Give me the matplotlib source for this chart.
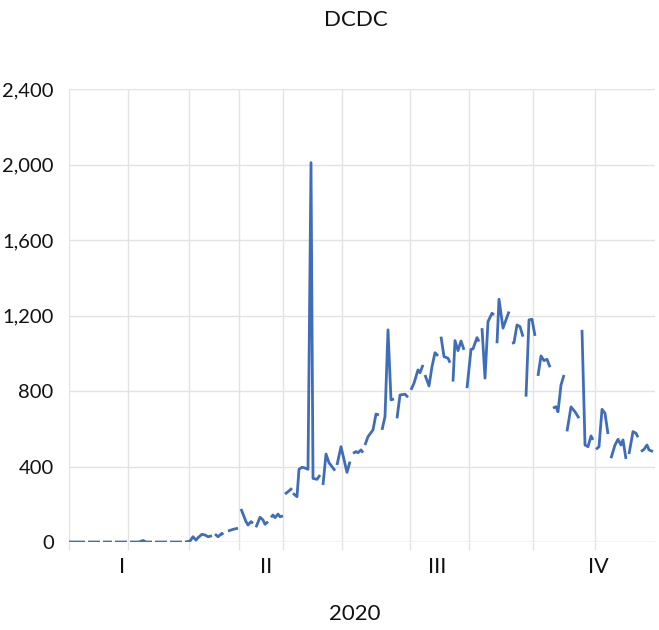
import matplotlib
matplotlib.use('Agg')
import matplotlib.pyplot as plt
import numpy as np

nan = np.nan

# sample index (one step = half a column of the axis) and daily DCDC values;
# nan marks the days with no reading, which break the line
t = [0, 2, 4, 6, 8, 8.75,
     9.5, 11, 12.5, 14, 15.5, 16.25,
     17, 18.5, 20, 21.5, 22.25,
     23, 24.5, 26, 27.5, 29, 29.75,
     30.5, 32, 33.5, 35, 37, 38.5, 40, 41.5, 42.25,
     43, 44.5, 46, 47.5, 49, 49.75,
     50.5, 52, 53.5, 55, 56.5, 57.25,
     58, 59.5, 60.5, 62, 63.5, 64.5, 66.5, 68, 69.5, 71.5, 72.25,
     73, 74.5, 76.5, 77, 78.25,
     79.5, 82, 84.5, 85.25,
     86, 88.5, 89.5, 91, 92, 92.75,
     93.5, 95.5, 97, 98, 99.5, 100.25,
     101, 102, 103, 104.5, 105.5, 107, 107.5,
     108, 110.5, 111.5, 111.75,
     112, 114, 115, 116.5, 118, 119.5, 121, 122, 124, 125.5, 126.25,
     127, 128.5, 130, 133, 133.5,
     134, 136, 139, 140.5, 141.25,
     142, 143.5, 144.5, 146, 147, 147.5,
     148, 149.5, 152, 153.5, 155, 155.75,
     156.5, 158, 159.5, 161, 162.5, 163.25,
     164, 165.5, 168, 169.5, 170.25,
     171, 172.5, 174.5, 175.5, 177, 177.5,
     178, 180, 181.5, 183, 184.5, 185.25,
     186, 187.5, 189.5, 190.5, 191.25,
     192, 193, 194.5, 196, 197.5, 198.25,
     199, 201, 202, 204, 205, 205.75,
     206.5, 208, 209.5, 211.5, 212.5, 213.25,
     214, 215, 217, 218.5, 220, 220.75,
     221.5, 222.5, 224, 225.5, 227, 227.75,
     228.5, 230, 231.5, 233, 233.75,
     234.5, 236, 237.5, 239, 240.5, 241.25,
     242, 243.5, 244.5, 246, 247.5, 248.25,
     249, 251, 253, 255, 255.75,
     256.5, 258, 259.5, 261, 262, 262.75,
     263.5, 265, 266.5, 268, 269.5, 270.25,
     271, 273, 274.5, 276, 277, 278.5, 279.25,
     280, 282, 283.5, 284.5, 285.25,
     286, 287.5, 289, 290, 292]

dcdc = [0, 0, 0, 0, 0, nan,
        0, 0, 0, 0, 0, nan,
        0, 0, 0, 0, nan,
        0, 0, 0, 0, 0, nan,
        0, 0, 0, 0, 8, 0, 0, 0, nan,
        0, 0, 0, 0, 0, nan,
        0, 0, 0, 0, 0, nan,
        0, 3, 5, 28, 10, 23, 41, 37, 28, 33, nan,
        42, 28, 46, 37, nan,
        58, 67, 73, nan,
        175, 108, 90, 108, 99, nan,
        78, 131, 117, 94, 108, nan,
        131, 143, 129, 148, 134, 138, nan,
        254, 275, 285, nan,
        258, 240, 385, 396, 392, 385, 2010, 337, 332, 355, nan,
        302, 466, 420, 378, nan,
        408, 505, 369, 426, nan,
        470, 479, 473, 488, 473, nan,
        514, 558, 594, 678, 673, nan,
        594, 664, 1124, 753, 758, nan,
        655, 779, 783, 767, nan,
        806, 841, 912, 897, 938, nan,
        885, 827, 929, 1003, 986, nan,
        1088, 982, 974, 950, nan,
        850, 1067, 1014, 1065, 1018, nan,
        815, 1021, 1023, 1083, 1062, nan,
        1133, 868, 1168, 1212, 1203, nan,
        1053, 1286, 1133, 1177, 1221, nan,
        1053, 1056, 1150, 1141, 1088, nan,
        770, 1177, 1180, 1092, nan,
        880, 986, 961, 968, 926, nan,
        709, 717, 690, 832, 885, nan,
        586, 716, 690, 656, nan,
        1124, 514, 505, 562, 541, nan,
        491, 505, 703, 682, 572, nan,
        444, 514, 544, 514, 541, 440, nan,
        466, 585, 576, 555, nan,
        479, 491, 514, 488, 479]

# column boundaries on the category axis and the quarter labels under them
grid_t = [0, 29.5, 60, 85, 107, 136.5, 170.5, 200, 232, 263]
quarter_t = [26.5, 98.5, 184, 264.5]
quarter_lbl = ['I', 'II', 'III', 'IV']
y_ticks = [0, 400, 800, 1200, 1600, 2000, 2400]

FONT = ['Liberation Sans Narrow', 'Lato', 'DejaVu Sans']
BLUE, GRID, INK = '#3F6DBA', '#E3E3E3', '#111111'

plt.rcParams['font.family'] = FONT
fig = plt.figure(figsize=(6.59, 6.30), dpi=100)
ax = fig.add_axes([69 / 659, 88 / 630, 586 / 659, 453 / 630])

ax.plot(t, dcdc, color=BLUE, lw=2.0, solid_joinstyle='round',
        solid_capstyle='butt')

ax.set_xlim(0, 293)
ax.set_ylim(0, 2400)
ax.set_yticks(y_ticks)
ax.set_yticklabels([f'{v:,}' for v in y_ticks])
ax.set_xticks(grid_t)
ax.set_xticklabels([])
ax.set_xticks(quarter_t, minor=True)
ax.set_xticklabels(quarter_lbl, minor=True)

ax.grid(True, color=GRID, lw=1.0)
ax.set_axisbelow(True)
for s in ax.spines.values():
    s.set_visible(False)
ax.axhline(0, color=GRID, lw=1.0, zorder=0)

ax.tick_params(axis='y', length=0, pad=11, labelsize=14.5, labelcolor=INK)
ax.tick_params(axis='x', which='major', length=6, width=1.0, color=GRID)
ax.tick_params(axis='x', which='minor', length=0, pad=11, labelsize=15.5,
               labelcolor=INK)

ax.text(0.49, 1.152, 'DCDC', transform=ax.transAxes, ha='center',
        va='center', fontsize=16, color=INK)
ax.text(0.488, -0.159, '2020', transform=ax.transAxes, ha='center',
        va='center', fontsize=16, color=INK)

fig.savefig('out.png', dpi=100)
plt.close(fig)
